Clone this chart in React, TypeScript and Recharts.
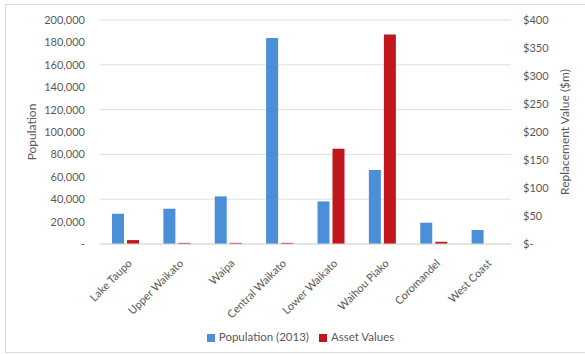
import { BarChart, Bar, XAxis, YAxis, CartesianGrid, Legend } from 'recharts'

const categories = ['Lake Taupo', 'Upper Waikato', 'Waipa', 'Central Waikato', 'Lower Waikato', 'Waihou Piako', 'Coromandel', 'West Coast']
const population = [27000, 31500, 42500, 184000, 38000, 66000, 19000, 12500]
const assetValues = [7, 2, 2, 2, 170, 374, 4, 0]
const popTicks = [0, 20000, 40000, 60000, 80000, 100000, 120000, 140000, 160000, 180000, 200000]
const valueTicks = [0, 50, 100, 150, 200, 250, 300, 350, 400]
const seriesOrder = ['Population (2013)', 'Asset Values']

const data = categories.map((name, i) => ({ name, pop: population[i], asset: assetValues[i] }))

const FONT = 'Lato, "Open Sans", sans-serif'
const TEXT = '#595959'

function CategoryTick({ x, y, payload }: any) {
  return (
    <text x={x + 7} y={y + 12} transform={`rotate(-45, ${x + 7}, ${y + 12})`} textAnchor="end" fontSize={11} fill={TEXT} fontFamily={FONT}>
      {payload.value}
    </text>
  )
}

export default function App() {
  return (
    <div style={{ position: 'absolute', left: 0, top: 0, width: 585, height: 354, background: '#fff', fontFamily: FONT }}>
      <div style={{ position: 'absolute', left: 5, top: 4, width: 600, height: 347, border: '1px solid #d9d9d9' }} />
      <BarChart width={585} height={354} data={data} margin={{ top: 20, right: 10, left: 0, bottom: 11 }} barSize={12} barGap={3}>
        <CartesianGrid yAxisId="pop" stroke="#dedede" vertical={false} />
        <XAxis dataKey="name" tick={<CategoryTick />} interval={0} height={86} tickLine={false} axisLine={{ stroke: '#d9d9d9' }} />
        <YAxis
          yAxisId="pop"
          width={100}
          domain={[0, 200000]}
          ticks={popTicks}
          tickFormatter={(v: number) => (v === 0 ? '-   ' : v.toLocaleString('en-US'))}
          tick={{ fontSize: 11, fill: TEXT, fontFamily: FONT }}
          tickMargin={9}
          axisLine={false}
          tickLine={false}
          label={{ value: 'Population', angle: -90, position: 'insideLeft', offset: 32, style: { textAnchor: 'middle', fontSize: 12, fill: TEXT, fontFamily: FONT } }}
        />
        <YAxis
          yAxisId="val"
          orientation="right"
          width={64}
          domain={[0, 400]}
          ticks={valueTicks}
          tickFormatter={(v: number) => (v === 0 ? '$-' : `$${v}`)}
          tick={{ fontSize: 11, fill: TEXT, fontFamily: FONT }}
          tickMargin={6}
          axisLine={false}
          tickLine={false}
          label={{ value: 'Replacement Value ($m)', angle: -90, position: 'insideRight', offset: 10, style: { textAnchor: 'middle', fontSize: 12, fill: TEXT, fontFamily: FONT } }}
        />
        <Legend
          verticalAlign="bottom"
          iconType="square"
          iconSize={8}
          itemSorter={(item: any) => seriesOrder.indexOf(item.value)}
          wrapperStyle={{ fontSize: 11.5, color: TEXT, fontFamily: FONT, paddingLeft: 36, boxSizing: 'border-box' }}
          formatter={(value: string) => <span style={{ color: TEXT }}>{value}</span>}
        />
        <Bar yAxisId="pop" dataKey="pop" name="Population (2013)" fill="#4A8FD8" isAnimationActive={false} />
        <Bar yAxisId="val" dataKey="asset" name="Asset Values" fill="#C0171D" isAnimationActive={false} />
      </BarChart>
    </div>
  )
}
